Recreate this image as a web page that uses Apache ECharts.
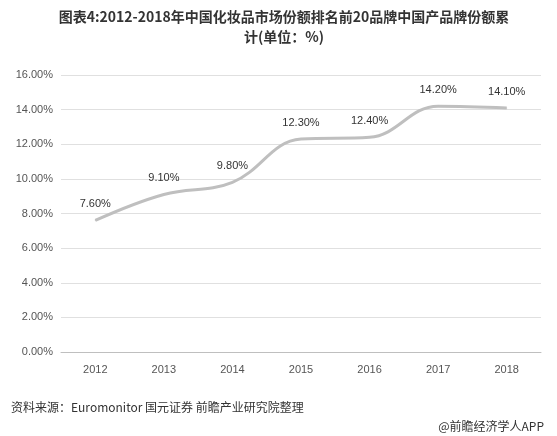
<!DOCTYPE html>
<html><head><meta charset="utf-8">
<script src="https://cdn.jsdelivr.net/npm/echarts@6/dist/echarts.min.js"></script>
<style>html,body{margin:0;padding:0;background:#fff}#c{width:557px;height:436px}</style>
</head><body><div id="c"></div>
<script>
var categories=['2012','2013','2014','2015','2016','2017','2018'];
var values=[7.6,9.1,9.8,12.3,12.4,14.2,14.1];
var chart=echarts.init(document.getElementById('c'));
chart.setOption({
  title:[{text:'图表4:2012-2018年中国化妆品市场份额排名前20品牌中国产品牌份额累\n计(单位：%)',left:279,top:2,textAlign:'center',
    textStyle:{fontSize:14,fontWeight:'bold',color:'#333',lineHeight:20,align:'center',fontFamily:'Noto Sans CJK SC'}},
    {text:'资料来源：Euromonitor 国元证券 前瞻产业研究院整理',left:6,top:396,textStyle:{fontSize:12,fontWeight:'normal',color:'#333',fontFamily:'Noto Sans CJK SC'}},
    {text:'@前瞻经济学人APP',right:8,top:415,textStyle:{fontSize:12,fontWeight:'normal',color:'#333',fontFamily:'Noto Sans CJK SC'}}],
  grid:{left:61,right:16,top:75,bottom:84},
  xAxis:{type:'category',data:categories,axisTick:{show:false},axisLine:{lineStyle:{color:'#bfbfbf'}},
    axisLabel:{color:'#555',fontSize:11,margin:12}},
  yAxis:{type:'value',min:0,max:16,interval:2,axisLabel:{color:'#555',fontSize:11,formatter:function(v){return v.toFixed(2)+'%';}},
    splitLine:{lineStyle:{color:'#e0e0e0'}},axisLine:{show:false},axisTick:{show:false}},
  series:[{type:'line',data:values,smooth:0.4,symbol:'circle',symbolSize:1,itemStyle:{color:'#bfbfbf'},lineStyle:{color:'#bfbfbf',width:3},
    label:{show:true,position:'top',distance:10,color:'#333',fontSize:11,formatter:function(p){return p.value.toFixed(2)+'%';}}}]
});
</script></body></html>
